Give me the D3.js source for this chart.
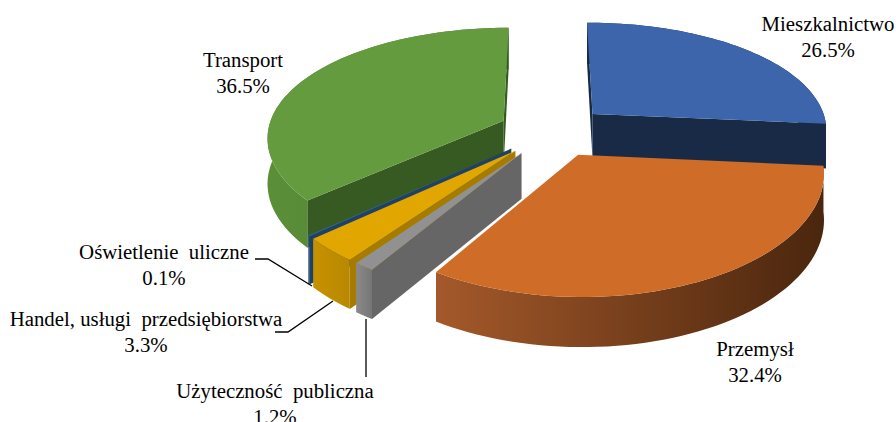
<!DOCTYPE html>
<html>
<head>
    <meta charset="utf-8">
    <script src="https://d3js.org/d3.v7.min.js"></script>
    <style>
        html, body { margin: 0; padding: 0; background: #fff; }
        svg { display: block; }
        text { font-family: "Liberation Serif", serif; font-size: 20.8px; fill: #000; }
    </style>
</head>
<body>
<svg width="896" height="422"></svg>
<script>

    // data
    var categories = ["Mieszkalnictwo", "Przemysł", "Użyteczność  publiczna", "Handel, usługi  przedsiębiorstwa", "Oświetlenie  uliczne", "Transport"];
    var values = [26.5, 32.4, 1.2, 3.3, 0.1, 36.5];
    var valueLabels = ["26.5%", "32.4%", "1.2%", "3.3%", "0.1%", "36.5%"];

    // colours of each slice: top, cut wall, outer wall left and right
    var topColors = ["#3c65ab", "#cf6c28", "#919191", "#e2a600", "#2f6593", "#639b3e"];
    var cutColors = ["#192a47", "#6b3a15", "#666666", "#a67c00", "#1f4264", "#375a23"];
    var wallLeft = ["#1d3157", "#a4592a", "#8a8a8a", "#c79200", "#2f6593", "#5a8f38"];
    var wallRight = ["#1a2b4b", "#4a260e", "#767676", "#b98800", "#2f6593", "#4d7a30"];

    // label placement, centre x and first baseline
    var labelX = [828, 755, 275, 146, 164, 243];
    var labelY = [31, 356, 398, 326, 259, 67];

    // leader lines for the small slices
    var leaders = {
        2: [[366, 319], [366, 377]],
        3: [[275, 332], [288, 332], [333, 301]],
        4: [[255, 259], [268, 259], [312, 286]]
    };

    var svg = d3.select("svg"),
        cx = 553, cy = 131,
        radius = 236,
        tilt = 0.47,
        persp = 0.16,
        depth = 45,
        explode = 0.232;

    var toX = d3.scaleLinear().domain([-1, 1]).range([-radius, radius]),
        toY = d3.scaleLinear().domain([-1, 1]).range([-radius * tilt, radius * tilt]);

    // disc coordinates to screen, level 0 is the top face and 1 the bottom
    function project(u, v, level) {
        var w = 1 / (1 - persp * v);
        return [cx + toX(u) * Math.pow(w, 0.85), cy + toY(v) * w + level * depth * Math.sqrt(w)];
    }

    var slices = d3.pie().sort(null).value(function(d) { return d; })
        .startAngle(-0.004).endAngle(2 * Math.PI - 0.004)(values);

    var line = d3.line();
    var defs = svg.append("defs");

    function rimPoints(d, level) {
        var mid = (d.startAngle + d.endAngle) / 2,
            ox = explode * Math.sin(mid),
            oy = -explode * Math.cos(mid);
        return d3.range(0, 61).map(function(i) {
            var a = d.startAngle + (d.endAngle - d.startAngle) * i / 60;
            return project(ox + Math.sin(a), oy - Math.cos(a), level);
        });
    }

    function apex(d, level) {
        var mid = (d.startAngle + d.endAngle) / 2;
        return project(explode * Math.sin(mid), -explode * Math.cos(mid), level);
    }

    // paint back to front
    var order = [0, 5, 4, 3, 2, 1];

    order.forEach(function(i) {
        var d = slices[i],
            g = svg.append("g"),
            top = rimPoints(d, 0),
            bottom = rimPoints(d, 1),
            a0 = apex(d, 0),
            a1 = apex(d, 1);

        var grad = defs.append("linearGradient")
            .attr("id", "wall" + i)
            .attr("gradientUnits", "userSpaceOnUse")
            .attr("x1", d3.min(top, function(p) { return p[0]; }))
            .attr("x2", d3.max(top, function(p) { return p[0]; }))
            .attr("y1", 0).attr("y2", 0);
        grad.append("stop").attr("offset", 0).attr("stop-color", wallLeft[i]);
        grad.append("stop").attr("offset", 1).attr("stop-color", wallRight[i]);

        // outer wall
        g.append("path")
            .attr("d", line(top.concat(bottom.slice().reverse())) + "Z")
            .attr("fill", "url(#wall" + i + ")");

        // cut walls, only those facing the viewer
        var first = [a0, top[0], bottom[0], a1],
            last = [top[60], a0, a1, bottom[60]];
        [first, last].forEach(function(q) {
            if (d3.polygonArea(q) < 0) return;
            g.append("path")
                .attr("d", line(q) + "Z")
                .attr("fill", cutColors[i]);
        });

        // top face
        g.append("path")
            .attr("d", line([a0].concat(top)) + "Z")
            .attr("fill", topColors[i]);
    });

    Object.keys(leaders).forEach(function(k) {
        svg.append("path")
            .attr("d", line(leaders[k]))
            .attr("fill", "none")
            .attr("stroke", "#000")
            .attr("stroke-width", 1.3);
    });

    categories.forEach(function(name, i) {
        var t = svg.append("text")
            .attr("text-anchor", "middle")
            .attr("xml:space", "preserve")
            .style("white-space", "pre");
        t.append("tspan").attr("x", labelX[i]).attr("y", labelY[i]).text(name);
        t.append("tspan").attr("x", labelX[i]).attr("y", labelY[i] + 26).text(valueLabels[i]);
    });

</script>
</body>
</html>
